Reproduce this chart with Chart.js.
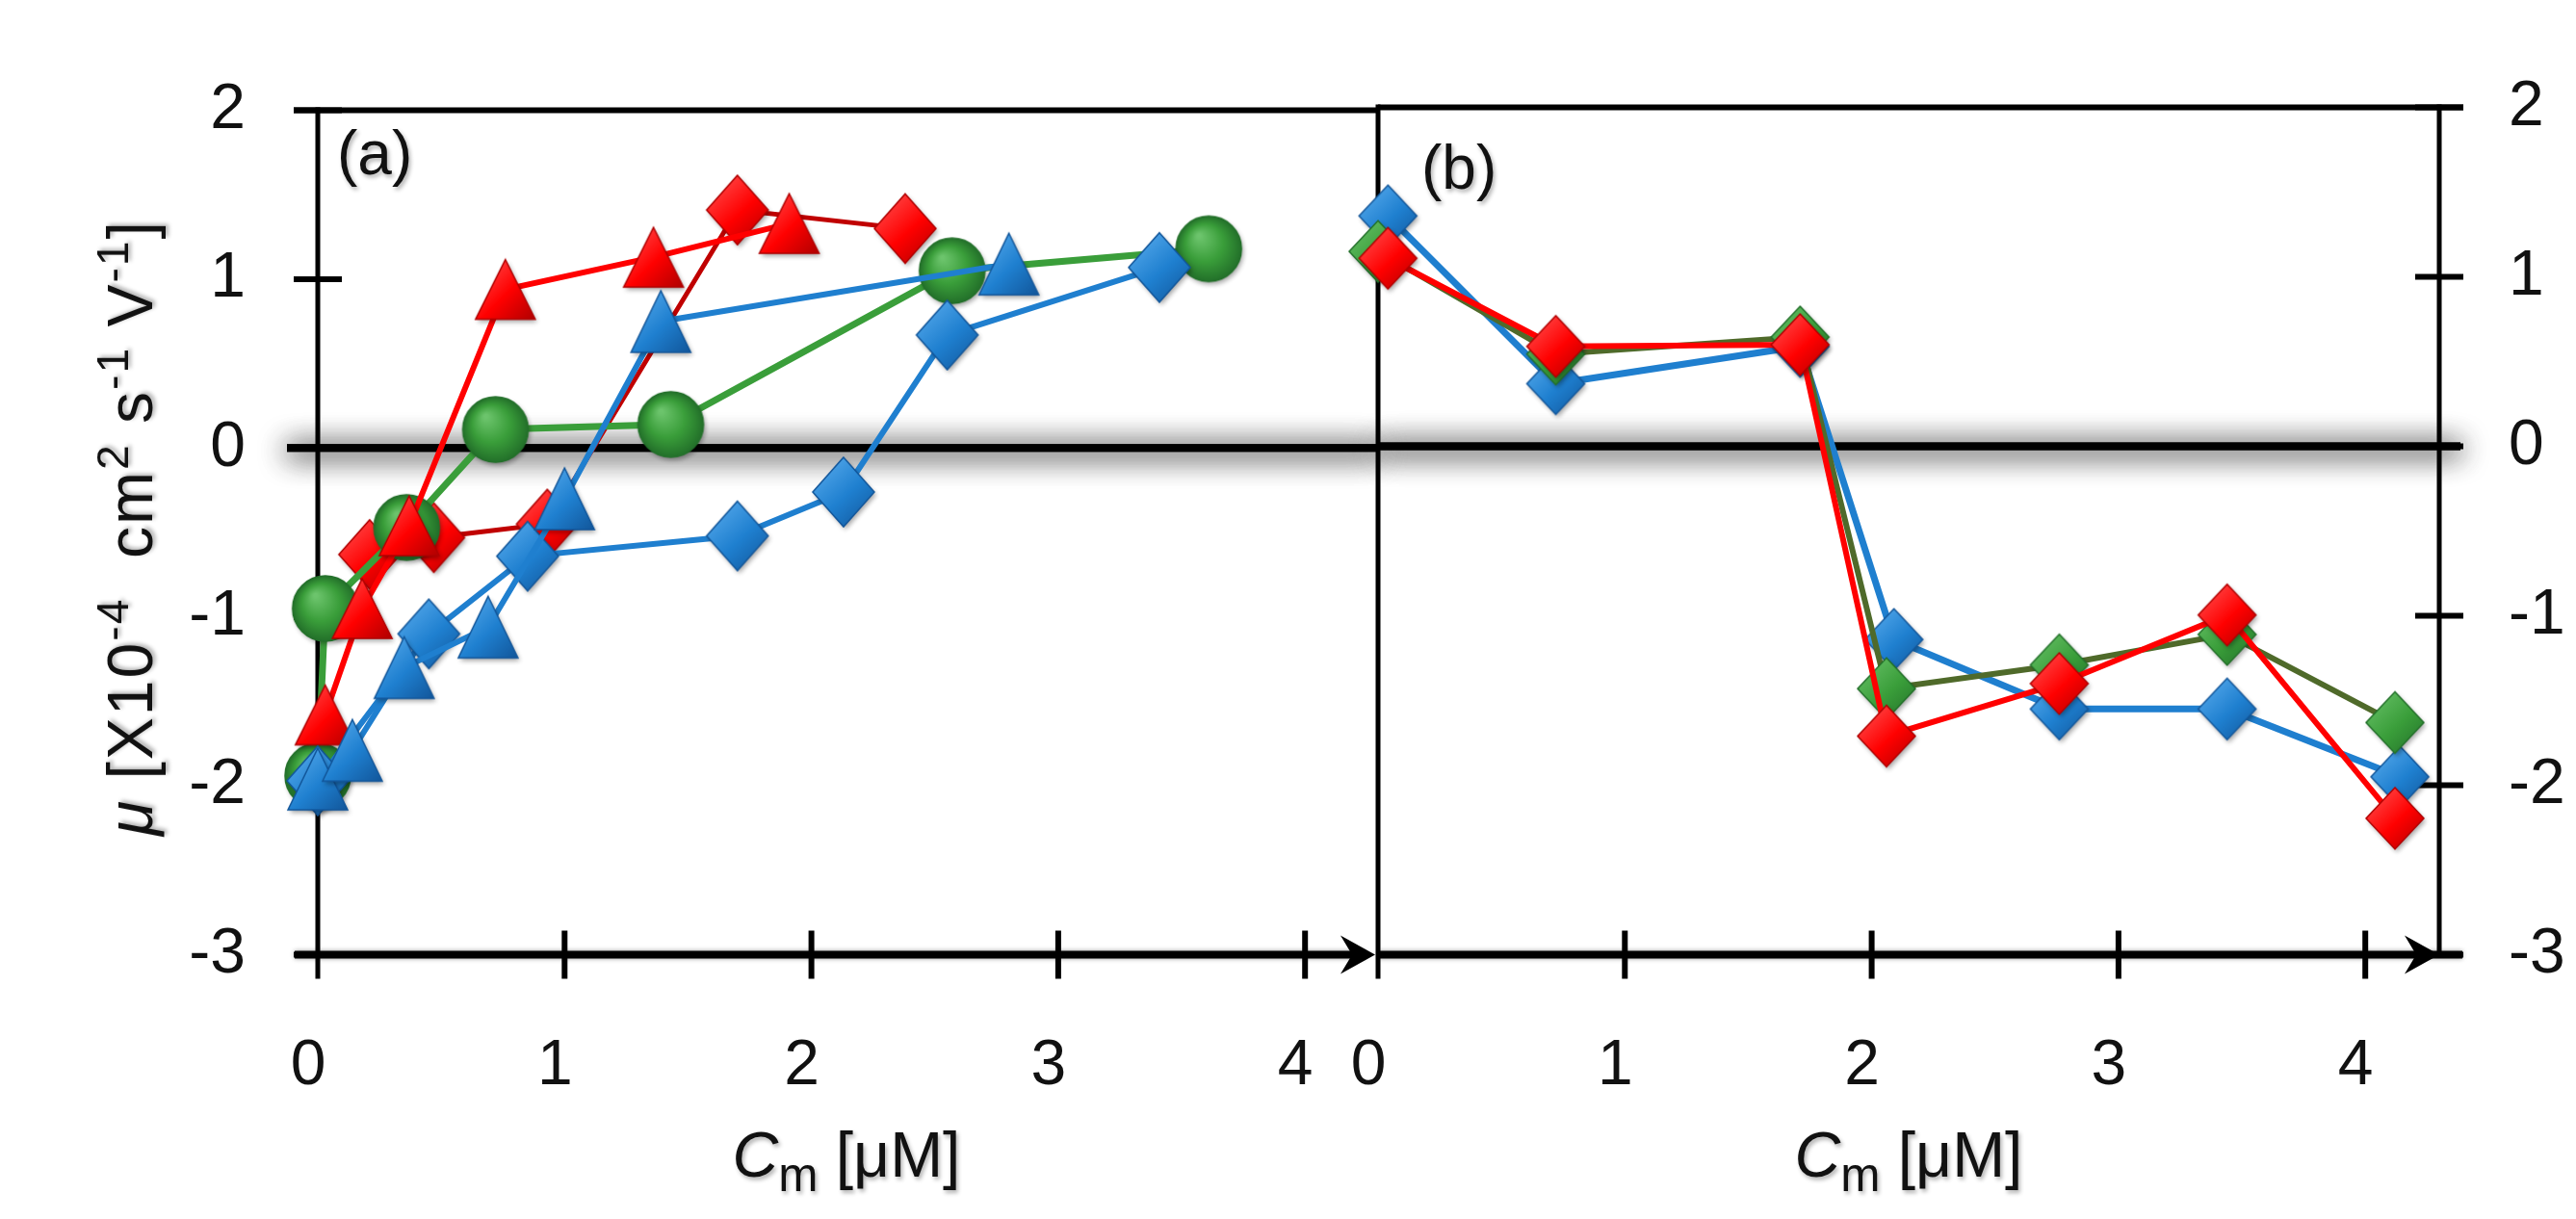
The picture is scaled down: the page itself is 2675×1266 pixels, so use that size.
<!DOCTYPE html>
<html>
<head>
<meta charset="utf-8">
<script src="https://cdn.jsdelivr.net/npm/chart.js@4.4.1/dist/chart.umd.min.js"></script>
<style>
  html, body { margin: 0; padding: 0; background: #fff; }
  #wrap { position: relative; width: 2675px; height: 1266px; overflow: hidden;
          font-family: "Liberation Sans", Arial, sans-serif; color: #111; }
  #wrap canvas { position: absolute; left: 0; top: 0; }
  .txt { position: absolute; font-size: 66px; line-height: 1; white-space: pre;
         text-shadow: 2px 3px 4px rgba(0,0,0,0.3); }
  .ytitle { left: 135px; top: 548px; letter-spacing: 2px; transform: translate(-50%, -50%) rotate(-90deg); }
  .xtitle { top: 1199px; transform: translate(-50%, -50%); }
  .txt sup { font-size: 0.7em; vertical-align: 0.55em; line-height: 0; }
  .txt sub { font-size: 0.75em; vertical-align: -0.3em; line-height: 0; }
  .plabel { font-size: 64px; }
</style>
</head>
<body>
<div id="wrap">
  <canvas id="ctx-a" width="2675" height="1266"></canvas>
  <canvas id="ctx-b" width="2675" height="1266"></canvas>
  <div class="txt ytitle"><i>μ</i> [X10<sup>-4</sup>  cm<sup>2</sup> s<sup>-1</sup> V<sup>-1</sup>]</div>
  <div class="txt xtitle" style="left:879px"><i>C</i><sub>m</sub> [μM]</div>
  <div class="txt xtitle" style="left:1982px"><i>C</i><sub>m</sub> [μM]</div>
  <div class="txt plabel" style="left:350px; top:127px">(a)</div>
  <div class="txt plabel" style="left:1476px; top:142px">(b)</div>
</div>
<script>
// panel (a)
const redTriX = [0.03, 0.18, 0.37, 0.76, 1.36, 1.91];
const redTriY = [-1.58, -0.95, -0.46, 0.94, 1.13, 1.33];
const redDiaX = [0.21, 0.47, 0.93, 1.70, 2.38];
const redDiaY = [-0.63, -0.53, -0.45, 1.41, 1.30];
const greenCirX = [0.0, 0.03, 0.36, 0.72, 1.43, 2.57, 3.61];
const greenCirY = [-1.94, -0.95, -0.47, 0.11, 0.14, 1.05, 1.18];
const blueDiaX = [0.0, 0.45, 0.85, 1.70, 2.13, 2.55, 3.41];
const blueDiaY = [-1.97, -1.10, -0.64, -0.52, -0.26, 0.67, 1.07];
const blueTriX = [0.0, 0.14, 0.35, 0.69, 1.0, 1.39, 2.80];
const blueTriY = [-1.96, -1.79, -1.30, -1.06, -0.30, 0.75, 1.09];

// panel (b)
const bX = [0.04, 0.72, 1.71, 2.09, 2.76, 3.44, 4.14];
const bBlue = [1.36, 0.37, 0.59, -1.14, -1.55, -1.55, -1.95];
const gX = [0.0, 0.72, 1.71, 2.06, 2.76, 3.44, 4.12];
const bGreen = [1.15, 0.545, 0.645, -1.43, -1.29, -1.11, -1.63];
const rX = [0.04, 0.72, 1.71, 2.06, 2.76, 3.44, 4.12];
const bRed = [1.11, 0.59, 0.60, -1.71, -1.40, -0.995, -2.195];

const xTicks = [0, 1, 2, 3, 4];
const yTicks = [-3, -2, -1, 0, 1, 2];

const pts = (xs, ys) => xs.map((x, i) => ({ x: x, y: ys[i] }));

// shaded marker sprites
function sprite(shape, light, mid, dark, w, h) {
    const pad = 8;
    const c = document.createElement('canvas');
    c.width = w + pad * 2;
    c.height = h + pad * 2;
    const g = c.getContext('2d');
    const cx = c.width / 2, cy = c.height / 2;
    g.beginPath();
    if (shape === 'dia') {
        g.moveTo(cx, cy - h / 2);
        g.lineTo(cx + w / 2, cy);
        g.lineTo(cx, cy + h / 2);
        g.lineTo(cx - w / 2, cy);
    } else if (shape === 'tri') {
        g.moveTo(cx, cy - h / 2);
        g.lineTo(cx + w / 2, cy + h / 2);
        g.lineTo(cx - w / 2, cy + h / 2);
    } else {
        g.ellipse(cx, cy, w / 2, h / 2, 0, 0, Math.PI * 2);
    }
    g.closePath();
    let grad;
    if (shape === 'cir') {
        grad = g.createRadialGradient(cx - w * 0.15, cy - h * 0.2, 2, cx, cy, w / 2);
    } else {
        grad = g.createLinearGradient(cx - w / 2, cy - h / 2, cx + w / 2, cy + h / 2);
    }
    grad.addColorStop(0, light);
    grad.addColorStop(0.55, mid);
    grad.addColorStop(1, dark);
    g.shadowColor = 'rgba(0,0,0,0.35)';
    g.shadowBlur = 5;
    g.shadowOffsetX = 2;
    g.shadowOffsetY = 3;
    g.fillStyle = grad;
    g.fill();
    g.shadowColor = 'transparent';
    g.lineWidth = 1.5;
    g.strokeStyle = dark;
    g.stroke();
    return c;
}

const RED = ['#ff5a5a', '#ff0000', '#b00000'];
const BLUE = ['#5fb0f0', '#1f80d0', '#12569a'];
const GREEN = ['#6cc46c', '#3a9e3a', '#23702a'];

const redTri = sprite('tri', ...RED, 62, 62);
const redDia = sprite('dia', ...RED, 64, 72);
const greenCir = sprite('cir', ...GREEN, 68, 68);
const blueDia = sprite('dia', ...BLUE, 64, 72);
const blueTri = sprite('tri', ...BLUE, 62, 64);
const blueDiaB = sprite('dia', ...BLUE, 60, 64);
const greenDiaB = sprite('dia', ...GREEN, 60, 64);
const redDiaB = sprite('dia', ...RED, 60, 64);

// axes, ticks, zero line and arrow drawn from the scales
const framePlugin = {
    id: 'frame',
    beforeDatasetsDraw(chart, args, opts) {
        const ctx = chart.ctx;
        const xs = chart.scales.x, ys = chart.scales.y;
        const xl = xs.getPixelForValue(0), xr = xs.right;
        const yTop = ys.getPixelForValue(2), yBot = ys.getPixelForValue(-3), y0 = ys.getPixelForValue(0);
        const right = opts.side === 'right';
        const line = (x1, y1, x2, y2, w) => {
            ctx.lineWidth = w;
            ctx.beginPath();
            ctx.moveTo(x1, y1);
            ctx.lineTo(x2, y2);
            ctx.stroke();
        };
        ctx.save();
        ctx.strokeStyle = '#000';
        ctx.fillStyle = '#000';
        ctx.lineCap = 'butt';

        // zero line with glow
        ctx.save();
        ctx.shadowColor = 'rgba(0,0,0,0.85)';
        ctx.shadowBlur = 30;
        ctx.shadowOffsetY = 3;
        line(right ? xl : xl - 32, y0, right ? xr + 22 : xr + 3, y0, 8);
        line(right ? xl : xl - 32, y0, right ? xr + 22 : xr + 3, y0, 8);
        ctx.restore();

        // top border
        line(right ? xl : xl - 25, yTop, right ? xr + 25 : xr + 3, yTop, 6);

        // vertical axes
        line(xl, yTop - 3, xl, yBot + 25, 5);
        if (right) {
            line(xr, yTop - 3, xr, yBot, 5);
            ys.ticks.forEach(t => {
                const p = ys.getPixelForValue(t.value);
                line(xr - 25, p, xr + 25, p, 6);
            });
        } else {
            ys.ticks.forEach(t => {
                const p = ys.getPixelForValue(t.value);
                line(xl - 25, p, xl + 25, p, 6);
            });
        }

        // x axis with arrow
        ctx.save();
        ctx.shadowColor = 'rgba(0,0,0,0.4)';
        ctx.shadowBlur = 5;
        line(right ? xl : xl - 24, yBot, right ? xr + 24 : xr - 10, yBot, 8);
        ctx.restore();
        ctx.beginPath();
        ctx.moveTo(xr, yBot);
        ctx.lineTo(xr - 36, yBot - 20);
        ctx.lineTo(xr - 24, yBot);
        ctx.lineTo(xr - 36, yBot + 20);
        ctx.closePath();
        ctx.fill();
        xs.ticks.forEach(t => {
            if (t.value === 0) return;
            const p = xs.getPixelForValue(t.value);
            line(p, yBot - 25, p, yBot + 25, 6);
        });
        ctx.restore();
    }
};

const font = { family: '"Liberation Sans", Arial, sans-serif', size: 66 };

function makeScales(xMax, side) {
    const W = 2675, H = 1266;
    return {
        x: {
            type: 'linear', min: 0, max: xMax,
            afterBuildTicks: (s) => { s.ticks = xTicks.map(v => ({ value: v })); },
            afterFit: (s) => { s.height = H - 991.5; },
            grid: { display: false, drawTicks: false, tickLength: 0 },
            border: { display: false },
            ticks: { color: '#111', font: font, padding: 77, labelOffset: -10, maxRotation: 0, autoSkip: false }
        },
        y: {
            type: 'linear', min: -3, max: 2, position: side,
            afterBuildTicks: (s) => { s.ticks = yTicks.map(v => ({ value: v })); },
            afterFit: (s) => { s.width = side === 'left' ? 330 : W - 2533; },
            grid: { display: false, drawTicks: false, tickLength: 0 },
            border: { display: false },
            ticks: { color: '#111', font: font, padding: side === 'left' ? 75 : 72, autoSkip: false }
        }
    };
}

function ds(xs, ys, color, width, img, order) {
    return {
        data: pts(xs, ys),
        showLine: true,
        borderColor: color,
        borderWidth: width,
        tension: 0,
        pointStyle: img,
        pointRadius: 30,
        pointHoverRadius: 30,
        clip: false,
        order: order
    };
}

const common = {
    responsive: false,
    animation: false,
    events: [],
    plugins: { legend: { display: false }, tooltip: { enabled: false } }
};

new Chart(document.getElementById('ctx-a'), {
    type: 'scatter',
    data: {
        datasets: [
            ds(redDiaX, redDiaY, '#c00000', 5, redDia, 5),
            ds(greenCirX, greenCirY, '#3a9e3a', 7, greenCir, 4),
            ds(redTriX, redTriY, '#ff0000', 6, redTri, 3),
            ds(blueDiaX, blueDiaY, '#1f7fcf', 6, blueDia, 2),
            ds(blueTriX, blueTriY, '#1f7fcf', 6, blueTri, 1)
        ]
    },
    options: {
        ...common,
        layout: { padding: { left: 0, right: 2675 - 1428, top: 101.5, bottom: 0 } },
        scales: makeScales((1428 - 330) / 256.3, 'left'),
        plugins: { ...common.plugins, frame: { side: 'left' } }
    },
    plugins: [framePlugin]
});

new Chart(document.getElementById('ctx-b'), {
    type: 'scatter',
    data: {
        datasets: [
            ds(bX, bBlue, '#1f7fcf', 7, blueDiaB, 3),
            ds(gX, bGreen, '#4f6a2a', 6, greenDiaB, 2),
            ds(rX, bRed, '#ff0000', 6, redDiaB, 1)
        ]
    },
    options: {
        ...common,
        layout: { padding: { left: 1431, right: 0, top: 101.5, bottom: 0 } },
        scales: makeScales((2533 - 1431) / 256.3, 'right'),
        plugins: { ...common.plugins, frame: { side: 'right' } }
    },
    plugins: [framePlugin]
});
</script>
</body>
</html>
